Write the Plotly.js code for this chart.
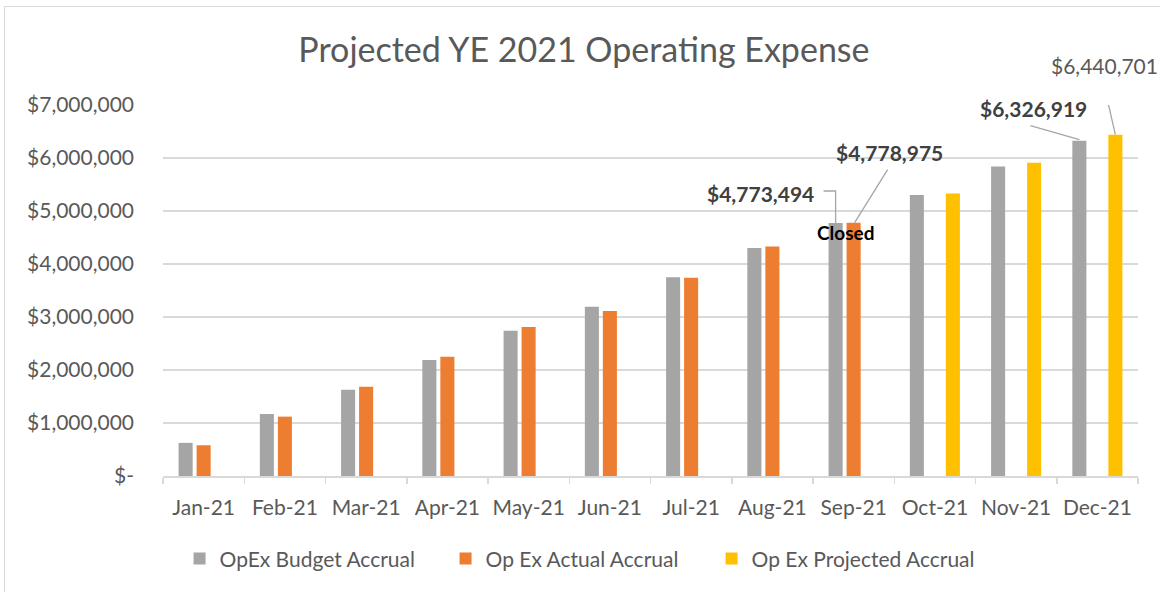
<!DOCTYPE html>
<html>
<head>
<meta charset="utf-8">
<script src="https://cdn.plot.ly/plotly-3.0.1.min.js"></script>
<style>
  html, body { margin: 0; padding: 0; background: #fff; }
  #chart { width: 1160px; height: 592px; position: relative; }
  #frame { position: absolute; left: 4px; top: 6px; width: 1200px; height: 700px;
           border-top: 1.5px solid #d9d9d9; border-left: 1.5px solid #d9d9d9; pointer-events: none; }
</style>
</head>
<body>
<div id="chart"></div>
<div id="frame"></div>
<script>
// ---- data ----
const months = ['Jan-21','Feb-21','Mar-21','Apr-21','May-21','Jun-21','Jul-21','Aug-21','Sep-21','Oct-21','Nov-21','Dec-21'];
const budget = [625000, 1170000, 1627000, 2190000, 2740000, 3195000, 3750000, 4300000, 4773494, 5300000, 5840000, 6326919];
const actual = [580000, 1120000, 1683000, 2250000, 2810000, 3114000, 3740000, 4330000, 4778975, null, null, null];
const projected = [null, null, null, null, null, null, null, null, null, 5330000, 5910000, 6440701];
const seriesNames = ['OpEx Budget Accrual', 'Op Ex Actual Accrual', 'Op Ex Projected Accrual'];
const yTickVals = [0, 1000000, 2000000, 3000000, 4000000, 5000000, 6000000, 7000000];
const yTickText = ['$-', '$1,000,000', '$2,000,000', '$3,000,000', '$4,000,000', '$5,000,000', '$6,000,000', '$7,000,000'];

const FONT = 'Lato, "Open Sans", sans-serif';
const TXT = '#595959';
const colors = ['#a5a5a5', '#ed7d31', '#ffc000'];
const bargap = 0.335;
const slot = (1 - bargap) / 3;

const fmt = v => '$' + Math.round(v).toLocaleString('en-US');

const traces = [budget, actual, projected].map((vals, i) => ({
  type: 'bar', name: seriesNames[i], x: months, y: vals,
  marker: { color: colors[i] }, hoverinfo: 'x+y'
}));

// callouts: series, slot (-1,0,1), month index, text offset (px), leader path (px, y up)
const callouts = [
  { arr: budget, s: -1, m: 8, dx: -75, dy: 30, path: 'M0,0 L0,32 L-12,32', bold: true },
  { arr: actual, s: 0, m: 8, dx: 36, dy: 70, path: 'M1,0 L34,53', bold: true },
  { arr: budget, s: -1, m: 11, dx: -46, dy: 32, path: 'M0,1 L-49,15', bold: true },
  { arr: projected, s: 1, m: 11, dx: -11, dy: 69, path: 'M0,0 L-12,52', bold: false }
];

const annotations = callouts.map(c => ({
  xref: 'x', yref: 'y', x: c.m + c.s * slot, y: c.arr[c.m],
  text: c.bold ? '<b>' + fmt(c.arr[c.m]) + '</b>' : fmt(c.arr[c.m]),
  showarrow: false, xshift: c.dx, yshift: c.dy,
  font: { family: FONT, size: 21, color: c.bold ? '#404040' : TXT }
}));
annotations.push({
  xref: 'x', yref: 'y', x: 8, y: actual[8], text: '<b>Closed</b>',
  showarrow: false, xshift: -7.5, yshift: -10,
  font: { family: FONT, size: 19, color: '#000000' }
});

const shapes = callouts.map(c => ({
  type: 'path', xref: 'x', yref: 'y', xsizemode: 'pixel', ysizemode: 'pixel',
  xanchor: c.m + c.s * slot, yanchor: c.arr[c.m], path: c.path,
  line: { color: '#a6a6a6', width: 1.3 }
}));

const layout = {
  width: 1160, height: 592,
  margin: { l: 163, r: 22, t: 105, b: 116 },
  paper_bgcolor: '#ffffff', plot_bgcolor: '#ffffff',
  font: { family: FONT, color: TXT, size: 21 },
  title: { text: 'Projected YE 2021 Operating Expense', font: { family: FONT, size: 34, color: TXT },
           xref: 'container', yref: 'container', x: 0.5034, y: 1 - 50 / 592, xanchor: 'center', yanchor: 'middle' },
  barmode: 'group', bargap: bargap, bargroupgap: 0.22,
  showlegend: true,
  legend: { orientation: 'h', x: 0.017, xanchor: 'left', y: -0.223, yanchor: 'middle',
            entrywidth: 221, entrywidthmode: 'pixels',
            font: { family: FONT, size: 21, color: TXT }, itemclick: false, traceorder: 'normal' },
  xaxis: { type: 'category', range: [-0.5, 11.5], autorange: false, showgrid: false, showline: true,
           linecolor: '#d9d9d9', linewidth: 1.5, tickangle: 0,
           ticks: 'outside', tickson: 'boundaries', ticklen: 6, tickcolor: '#d9d9d9', tickwidth: 1.5,
           ticklabelstandoff: 12, tickfont: { family: FONT, size: 21, color: TXT }, fixedrange: true },
  yaxis: { range: [0, 7000000], autorange: false, tickvals: yTickVals, ticktext: yTickText, showgrid: true,
           gridcolor: '#d9d9d9', gridwidth: 1.5, zeroline: false, showline: false, ticks: '',
           ticklabelstandoff: 28, tickfont: { family: FONT, size: 21, color: TXT }, fixedrange: true },
  annotations: annotations,
  shapes: shapes
};

Plotly.newPlot('chart', traces, layout, { displayModeBar: false, staticPlot: true });
</script>
</body>
</html>
